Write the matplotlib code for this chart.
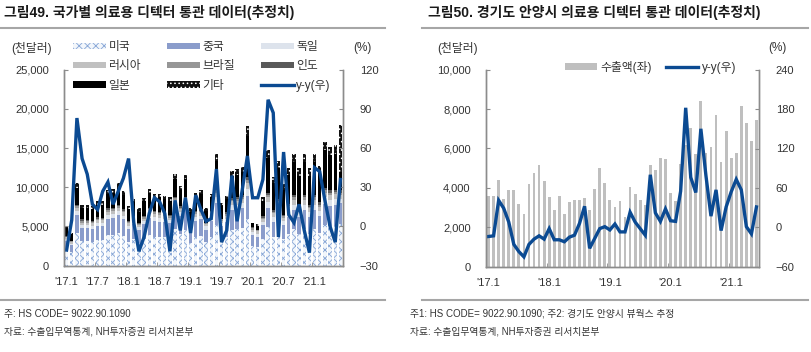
import matplotlib
matplotlib.use('Agg')
import matplotlib.pyplot as plt
from matplotlib.lines import Line2D
import numpy as np

plt.rcParams['font.family'] = ['Liberation Sans', 'Noto Sans CJK KR', 'DejaVu Sans']
plt.rcParams['hatch.linewidth'] = 0.6

# ---- left chart: country breakdown (천달러), 2017.1 ~ 2021.6
us = [2000, 1700, 4200, 3100, 3100, 3000, 3300, 3300, 3900, 3900, 4200, 3800,
      3000, 3400, 2900, 3400, 3900, 3700, 3600, 3600, 3500, 4700, 4100, 4600,
      2900, 3700, 3800, 3000, 3700, 5200, 3200, 3600, 4600, 4700, 4800, 5900,
      2500, 2400, 3400, 4900, 3700, 4400, 3400, 4100, 4700, 4100, 4700, 4100,
      4700, 4200, 5200, 5000, 5100, 5300]
cn = [1100, 900, 2300, 1700, 1700, 1700, 1800, 1800, 2100, 2200, 2300, 2100,
      1700, 1900, 1600, 1900, 2200, 2000, 2000, 2000, 1900, 2600, 2200, 2600,
      1600, 2000, 2100, 1600, 2000, 2800, 1800, 2000, 2500, 2500, 2600, 3000,
      1400, 1300, 1800, 2500, 1900, 2300, 1800, 2100, 2400, 2100, 2400, 2100,
      2400, 2200, 2700, 2600, 2600, 2700]
de = [300, 200, 500, 400, 400, 400, 400, 400, 500, 500, 500, 500,
      400, 400, 400, 400, 500, 500, 500, 400, 400, 600, 500, 600,
      400, 500, 500, 400, 500, 700, 400, 400, 600, 600, 600, 900,
      400, 400, 400, 700, 600, 700, 500, 600, 700, 600, 700, 600,
      700, 600, 800, 800, 800, 500]
ru = [200, 200, 400, 300, 300, 300, 300, 300, 400, 400, 400, 400,
      300, 300, 300, 300, 400, 400, 400, 400, 300, 500, 400, 500,
      300, 400, 400, 300, 400, 600, 300, 400, 500, 500, 500, 700,
      300, 300, 300, 600, 500, 500, 400, 500, 600, 500, 600, 500,
      600, 500, 600, 600, 600, 500]
br = [100, 100, 200, 200, 200, 200, 200, 200, 200, 200, 200, 200,
      200, 200, 100, 200, 200, 200, 200, 200, 200, 200, 200, 200,
      100, 200, 200, 100, 200, 300, 200, 200, 200, 200, 300, 400,
      200, 100, 200, 300, 200, 300, 200, 300, 300, 200, 300, 200,
      300, 300, 300, 300, 300, 300]
ind = [100, 100, 200, 200, 100, 100, 200, 100, 200, 200, 200, 200,
       100, 200, 100, 200, 200, 200, 200, 200, 200, 200, 200, 200,
       100, 200, 200, 100, 200, 300, 100, 200, 200, 200, 200, 400,
       100, 100, 200, 300, 200, 300, 200, 300, 300, 200, 300, 200,
       300, 300, 300, 300, 300, 300]
jp = [1000, 800, 2100, 1500, 1600, 1500, 1600, 1700, 1900, 1900, 2100, 1800,
      1500, 1700, 1500, 1800, 1900, 1800, 1800, 1700, 1800, 2300, 2100, 2300,
      1500, 1900, 1900, 1500, 1800, 3400, 1600, 1700, 2800, 2900, 2900, 5300,
      500, 500, 1900, 4400, 3400, 4000, 3100, 3700, 4200, 3800, 4200, 3800,
      4200, 3700, 4800, 4500, 4600, 2300]
etc = [200, 200, 600, 400, 400, 400, 400, 400, 500, 500, 600, 500,
       400, 400, 400, 400, 500, 400, 400, 400, 400, 600, 500, 600,
       400, 400, 500, 400, 400, 900, 400, 400, 700, 700, 700, 1200,
       100, 200, 500, 1100, 800, 800, 800, 900, 1000, 900, 1000, 900,
       1000, 900, 1100, 1100, 1100, 6000]
yoy_left = [-18, 5, 83, 52, 40, 17, 13, 27, 34, 17, 27, 37,
            52, 3, -19, -8, 10, 22, 19, 10, -19, 20, -3, 22,
            -5, 24, 13, 4, 6, 44, -12, -3, 39, 4, 28, 54,
            22, 22, 36, 97, 87, -8, 57, 9, 3, 17, -3, -20,
            45, 42, 20, 0, -12, 36]

# ---- right chart: 경기도 안양시 (천달러)
exports = [3600, 3600, 4400, 3450, 3900, 3870, 3170, 2650, 4180, 4780, 5180, 4330,
           3550, 2900, 3580, 2700, 3260, 3410, 3390, 3500, 2880, 3930, 5030, 4270,
           3390, 3050, 3340, 2530, 4040, 3700, 3380, 3130, 5150, 4900, 5500, 5450,
           3760, 3350, 5210, 6200, 7060, 5710, 8410, 5760, 6090, 7680, 5330, 6900,
           5540, 5790, 8170, 7310, 6400, 7450]
yoy_right = [-14, -13, 41, 29, 8, -26, -37, -45, -26, -18, -13, -18,
             -2, -19, -19, -22, -15, -12, 6, 32, -32, -17, -2, 1,
             -4, 5, -7, -7, 23, 8, -2, -12, 80, 22, 9, 28,
             10, 9, 55, 182, 76, 53, 150, 79, 17, 57, -5, 31,
             54, 73, 57, 1, -10, 31]

labels_left = ["'17.1", "'17.7", "'18.1", "'18.7", "'19.1", "'19.7", "'20.1", "'20.7", "'21.1"]
labels_right = ["'17.1", "'18.1", "'19.1", "'20.1", "'21.1"]

W, H = 811, 352
LINE = '#0b4a92'
SPINE = '#8c8c8c'
TXT = '#333333'


def px(x0, y0, x1, y1):
    return [x0 / W, 1 - y1 / H, (x1 - x0) / W, (y1 - y0) / H]


def style_axes(ax, ax2):
    for a in (ax, ax2):
        a.spines['top'].set_visible(False)
        for s in ('left', 'right', 'bottom'):
            a.spines[s].set_color(SPINE)
            a.spines[s].set_linewidth(1)
    ax.tick_params(axis='y', direction='in', length=3, color=SPINE,
                   labelsize=8, labelcolor=TXT, pad=11)
    ax2.tick_params(axis='y', direction='in', length=3, color=SPINE,
                    labelsize=8, labelcolor=TXT, pad=12)
    ax.tick_params(axis='x', which='major', length=0, labelsize=8,
                   labelcolor=TXT, pad=8)
    ax.tick_params(axis='x', which='minor', direction='in', length=3, color=SPINE)


fig = plt.figure(figsize=(W / 100, H / 100), dpi=100)

# titles and separator lines
fig.text(4 / W, 1 - 13 / H, '그림49. 국가별 의료용 디텍터 통관 데이터(추정치)',
         fontsize=10, fontweight='bold', va='center', ha='left', color='#1a1a1a')
fig.text(428 / W, 1 - 13 / H, '그림50. 경기도 안양시 의료용 디텍터 통관 데이터(추정치)',
         fontsize=10, fontweight='bold', va='center', ha='left', color='#1a1a1a')
for x0, x1 in ((0, 385), (422, 808)):
    fig.add_artist(Line2D([x0 / W, x1 / W], [1 - 28 / H] * 2, color='#a6a6a6', lw=1.5))
    fig.add_artist(Line2D([x0 / W, x1 / W], [1 - 300 / H] * 2, color='#a6a6a6', lw=1.5))

# ---------------- left chart
n = len(us)
x = np.arange(n)
ax = fig.add_axes(px(64, 69.7, 343, 265.7))
ax2 = ax.twinx()
series = [
    (us, '미국', dict(color='#f2f6fb', hatch='xxxx', edgecolor='#86a5d6')),
    (cn, '중국', dict(color='#8a9ccb')),
    (de, '독일', dict(color='#dde3ec')),
    (ru, '러시아', dict(color='#c0c0c0')),
    (br, '브라질', dict(color='#969696')),
    (ind, '인도', dict(color='#595959')),
    (jp, '일본', dict(color='#000000')),
    (etc, '기타', dict(color='#111111', hatch='....', edgecolor='#ffffff')),
]
bottom = np.zeros(n)
handles = {}
for vals, name, kw in series:
    vals = np.array(vals, dtype=float)
    b = ax.bar(x, vals, 0.66, bottom=bottom, linewidth=0, label=name, **kw)
    handles[name] = b
    bottom += vals
ln, = ax2.plot(x, yoy_left, color=LINE, lw=2.4, label='y-y(우)', solid_joinstyle='miter')
handles['y-y(우)'] = ln

ax.set_xlim(-0.5, n - 0.5)
ax.set_ylim(0, 25000)
ax.set_yticks(range(0, 25001, 5000))
ax.set_yticklabels([f'{v:,}' for v in range(0, 25001, 5000)])
ax2.set_ylim(-30, 120)
ax2.set_yticks(range(-30, 121, 30))
ax.set_xticks(range(0, n, 6))
ax.set_xticklabels(labels_left)
ax.set_xticks(np.arange(-0.5, n, 6), minor=True)
style_axes(ax, ax2)

order = ['미국', '러시아', '일본', '중국', '브라질', '기타', '독일', '인도', 'y-y(우)']
ax.legend([handles[k] for k in order], order, loc='upper left',
          bbox_to_anchor=(73 / W, 1 - 41 / H), bbox_transform=fig.transFigure,
          ncol=3, frameon=False, fontsize=8.5, handlelength=2.8, handleheight=0.45,
          handletextpad=0.2, columnspacing=2.2, labelspacing=0.62,
          borderpad=0, borderaxespad=0, labelcolor=TXT)

fig.text(32 / W, 1 - 48 / H, '(천달러)', fontsize=8.5, ha='center', va='center', color=TXT)
fig.text(362 / W, 1 - 48 / H, '(%)', fontsize=8.5, ha='center', va='center', color=TXT)

# ---------------- right chart
m = len(exports)
xr = np.arange(m)
bx = fig.add_axes(px(486, 69.7, 759, 266.7))
bx2 = bx.twinx()
bars = bx.bar(xr, exports, 0.55, color='#bfbfbf', linewidth=0, label='수출액(좌)')
ln2, = bx2.plot(xr, yoy_right, color=LINE, lw=2.4, label='y-y(우)', solid_joinstyle='miter')
bx.set_xlim(-0.5, m - 0.5)
bx.set_ylim(0, 10000)
bx.set_yticks(range(0, 10001, 2000))
bx.set_yticklabels([f'{v:,}' for v in range(0, 10001, 2000)])
bx2.set_ylim(-60, 240)
bx2.set_yticks(range(-60, 241, 60))
bx.set_xticks(range(0, m, 12))
bx.set_xticklabels(labels_right)
bx.set_xticks(np.arange(-0.5, m, 12), minor=True)
style_axes(bx, bx2)
bx.legend([bars, ln2], ['수출액(좌)', 'y-y(우)'], loc='upper left',
          bbox_to_anchor=(565 / W, 1 - 61 / H), bbox_transform=fig.transFigure,
          ncol=2, frameon=False, fontsize=8.5, handlelength=2.7, handleheight=0.5,
          handletextpad=0.3, columnspacing=1.2, borderpad=0, borderaxespad=0,
          labelcolor=TXT)

fig.text(458 / W, 1 - 48 / H, '(천달러)', fontsize=8.5, ha='center', va='center', color=TXT)
fig.text(777 / W, 1 - 48 / H, '(%)', fontsize=8.5, ha='center', va='center', color=TXT)

# footnotes
fig.text(4 / W, 1 - 314 / H, '주: HS CODE= 9022.90.1090', fontsize=7, va='center', color=TXT)
fig.text(4 / W, 1 - 332 / H, '자료: 수출입무역통계, NH투자증권 리서치본부', fontsize=7,
         va='center', color=TXT)
fig.text(410 / W, 1 - 314 / H, '주1: HS CODE= 9022.90.1090; 주2: 경기도 안양시 뷰웍스 추정',
         fontsize=7, va='center', color=TXT)
fig.text(410 / W, 1 - 332 / H, '자료: 수출입무역통계, NH투자증권 리서치본부', fontsize=7,
         va='center', color=TXT)

fig.savefig('out.png', dpi=100, facecolor='white')
